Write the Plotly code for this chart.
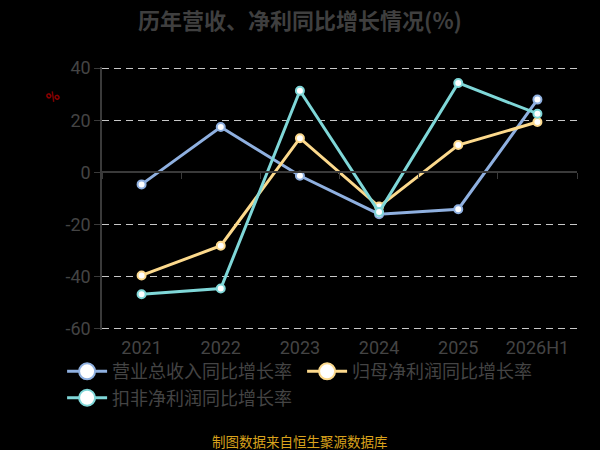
import plotly.graph_objects as go

years = ["2021", "2022", "2023", "2024", "2025", "2026H1"]
revenue_yoy = [-4.6, 17.4, -1.3, -16.0, -14.1, 27.9]
net_profit_yoy = [-39.5, -28.1, 13.1, -13.1, 10.5, 19.3]
deducted_profit_yoy = [-46.7, -44.5, 31.3, -15.2, 34.3, 22.5]
y_ticks = [-60, -40, -20, 0, 20, 40]
y_labels = ["-60", "-40", "-20", "0", "20", "40"]

names = ["营业总收入同比增长率", "归母净利润同比增长率", "扣非净利润同比增长率"]
colors = ["#8fb0e0", "#fcd98c", "#7fd7d8"]
series = [revenue_yoy, net_profit_yoy, deducted_profit_yoy]

fig = go.Figure()
for name, vals, c in zip(names, series, colors):
    fig.add_trace(go.Scatter(
        x=years, y=vals, name=name, mode="lines+markers", showlegend=False,
        line=dict(color=c, width=3),
        marker=dict(size=8, color="white", line=dict(color=c, width=2)),
    ))
    # bigger symbol for the legend only
    fig.add_trace(go.Scatter(
        x=[None], y=[None], name=name, mode="lines+markers",
        line=dict(color=c, width=3),
        marker=dict(size=16, color="white", line=dict(color=c, width=2)),
    ))

# invisible trace so the zero-level axis with boundary ticks is drawn
fig.add_trace(go.Scatter(x=years, y=[0] * len(years), xaxis="x2", mode="none",
                         showlegend=False, hoverinfo="skip"))

fig.update_layout(
    width=600, height=450,
    paper_bgcolor="black", plot_bgcolor="black",
    margin=dict(l=102, r=23, t=67, b=120),
    title=dict(text="<b>历年营收、净利同比增长情况(%)</b>", x=0.5, xanchor="center",
               y=0.953, yanchor="middle",
               font=dict(size=22, color="#3f3f3f", family="Noto Sans CJK SC")),
    font=dict(family="Roboto, Noto Sans CJK SC", color="#444444"),
    showlegend=True,
    legend=dict(orientation="h", x=-0.084, xanchor="left", y=-0.088, yanchor="top",
                font=dict(size=18, color="#444444", family="Noto Sans CJK SC"),
                itemwidth=40, tracegroupgap=0, entrywidth=185,
                bgcolor="rgba(0,0,0,0)"),
    xaxis=dict(type="category", range=[-0.5, 5.5], showgrid=False, showline=False,
               zeroline=False, ticks="", ticklabelstandoff=5,
               tickfont=dict(size=18, color="#444444")),
    xaxis2=dict(type="category", overlaying="x", matches="x", anchor="free",
                position=0.6, side="bottom", showline=True, linecolor="#3a3a3a",
                linewidth=1.5, ticks="outside", tickson="boundaries", ticklen=6,
                tickcolor="#3a3a3a", showticklabels=False, showgrid=False,
                zeroline=False),
    yaxis=dict(range=[-60.4, 40.4], tickvals=y_ticks, ticktext=y_labels,
               showgrid=True, gridcolor="#c8c8c8",
               griddash="7px,5px", gridwidth=1.4, zeroline=False,
               showline=True, linecolor="#3a3a3a", linewidth=1.5, ticks="outside",
               ticklen=6, tickcolor="#3a3a3a",
               tickfont=dict(size=18, color="#444444")),
)
fig.add_annotation(text="<b>%</b>", x=-0.103, y=0.886, xref="paper", yref="paper",
                   xanchor="center", yanchor="middle",
                   showarrow=False, textangle=-40,
                   font=dict(size=16, color="#8b0000"))
fig.add_annotation(text="制图数据来自恒生聚源数据库", x=0.417, xref="paper",
                   y=-0.422, yref="paper", xanchor="center", yanchor="middle",
                   showarrow=False,
                   font=dict(size=13.5, color="#d9a21c", family="Noto Sans CJK SC"))
fig.write_html("out.html", config=dict(displayModeBar=False),
               post_script="document.body.style.margin='0';")
